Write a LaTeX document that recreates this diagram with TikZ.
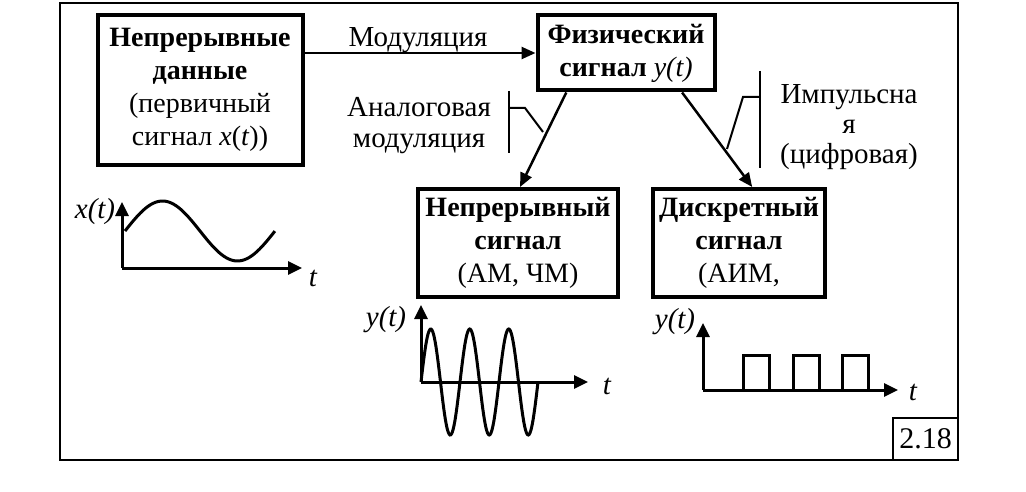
\documentclass[tikz,border=0pt]{standalone}
\usepackage{fontspec}
\setmainfont{Liberation Serif}
\usetikzlibrary{positioning,arrows.meta,calc}

\begin{document}
\begin{tikzpicture}[
      x=1pt, y=-1pt,
      blockbox/.style={draw, line width=4pt, inner sep=0pt, align=center, font=\fontsize{28}{33}\selectfont},
      lbl/.style={font=\fontsize{29}{31}\selectfont, align=center},
      ital/.style={font=\fontsize{29}{31}\selectfont\itshape},
      arr/.style={-{Triangle[length=14pt,width=12pt]}, line width=2.5pt},
      axis/.style={-{Triangle[length=14pt,width=13pt]}, line width=3pt},
      wave/.style={line width=3pt},
      brk/.style={line width=2pt}
  ]
    \useasboundingbox (0,0) rectangle (1026,492);
    \draw[line width=2.5pt] (60,3) rectangle (958,460);
    \node[draw, line width=2pt, minimum width=65pt, minimum height=42pt, font=\fontsize{30}{33}\selectfont] (num) at (925.5,439) {2.18};
    % blocks
    \node[blockbox, minimum width=205pt, minimum height=150pt] (data) at (200,90) {\textbf{Непрерывные}\\\textbf{данные}\\(первичный\\сигнал \textit{x}(\textit{t}))};
    \node[blockbox, minimum width=177pt, minimum height=75pt] (phys) at (626,53) {\textbf{Физический}\\\textbf{сигнал} \textit{y(t)}};
    \node[blockbox, minimum width=200pt, minimum height=108pt] (cont) at (518,243) {\textbf{Непрерывный}\\\textbf{сигнал}\\(АМ, ЧМ)};
    \node[blockbox, minimum width=172pt, minimum height=108pt] (disc) at (739,243) {\textbf{Дискретный}\\\textbf{сигнал}\\(АИМ,};
    % connectors
    \draw[arr] (phys.west -| data.east) -- (phys.west);
    \draw[arr] ($(phys.south west)!0.17!(phys.south east)$) -- ($(cont.north west)!0.51!(cont.north east)$);
    \draw[arr] ($(phys.south west)!0.81!(phys.south east)$) -- ($(disc.north west)!0.575!(disc.north east)$);
    % labels
    \node[lbl] (modlbl) at (418,40) {Модуляция};
    \node[lbl] (anlbl) at (419,126) {Аналоговая\\модуляция};
    \node[lbl, font=\fontsize{29}{30}\selectfont] (imlbl) at (849,127) {Импульсна\\я\\(цифровая)};
    % brackets
    \draw[brk] (509,91) -- (509,153);
    \draw[brk] (509,108) -- (525,108) -- (543,132);
    \draw[brk] (760,71) -- (760,168);
    \draw[brk] (760,97) -- (743,97) -- (727,149);
    % plot x(t)
    \coordinate (o1) at (122,268);
    \draw[axis] (o1) -- (122,202);
    \draw[axis] (o1) -- (302,268);
    \draw[wave] plot[domain=0:1, samples=60] ({125+150*\x},{231-30*sin(360*\x)});
    \node[ital] (xlbl) at (95,212) {x(t)};
    \node[ital] (t1) at (313,278) {t};
    % plot AM/FM
    \coordinate (o2) at (421,382);
    \draw[axis] (o2) -- (421,305);
    \draw[axis] (o2) -- (588,382);
    \draw[wave] plot[domain=0:1, samples=150] ({421+117*\x},{382-53*sin(1080*\x)});
    \node[ital] (ylbl2) at (386,320) {y(t)};
    \node[ital] (t2) at (607,386) {t};
    % plot pulses
    \coordinate (o3) at (703,390);
    \draw[axis] (o3) -- (703,323);
    \draw[axis] (o3) -- (898,390);
    \foreach \p in {743,793,842}
      \draw[wave] (\p,390) -- (\p,355) -- (\p+26,355) -- (\p+26,390);
    \node[ital] (ylbl3) at (675,322) {y(t)};
    \node[ital] (t3) at (913,392) {t};
  \end{tikzpicture}
\end{document}
